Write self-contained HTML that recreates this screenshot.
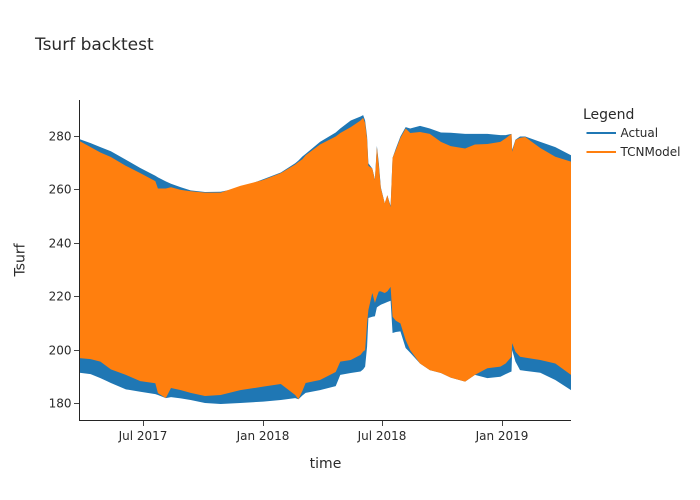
<!DOCTYPE html>
<html>
<head>
<meta charset="utf-8">
<title>Tsurf backtest</title>
<style>
html,body{margin:0;padding:0;background:#fff;}
body{width:700px;height:500px;overflow:hidden;}
svg{display:block;}
text{font-family:"DejaVu Sans","Liberation Sans",sans-serif;fill:#2a2a2a;}
</style>
</head>
<body>
<svg id="chart" xmlns="http://www.w3.org/2000/svg" width="700" height="500" viewBox="0 0 700 500">
  <text x="35" y="50" font-size="17">Tsurf backtest</text>
  <g id="plot"></g>
  <g id="axes"></g>
  <text x="325.5" y="468" font-size="14" text-anchor="middle">time</text>
  <text transform="translate(24.5,260) rotate(-90)" font-size="14" text-anchor="middle">Tsurf</text>
  <g>
    <text x="583" y="119" font-size="14">Legend</text>
    <g>
      <line x1="586.5" x2="616" y1="133" y2="133" stroke="#1f77b4" stroke-width="2"></line>
      <text x="620.5" y="137" font-size="12">Actual</text>
    </g>
    <g>
      <line x1="586.5" x2="616" y1="152" y2="152" stroke="#ff7f0e" stroke-width="2"></line>
      <text x="620.5" y="156" font-size="12">TCNModel</text>
    </g>
  </g>
</svg>
<script>
const days = [0,17,32,48,71,93,116,120,132,140,155,170,192,216,246,281,308,330,335,341,346,368,392,399,415,430,434,437,440,442,448,452,455,458,461,467,471,476,479,484,491,499,506,521,536,553,568,590,605,624,644,652,661,662,667,674,682,705,728,752];
const actualMax = [279,277.5,276,274.5,271.3,268.2,265.3,264.7,263.2,262.3,261,259.8,259.2,259.3,260.8,264,266.5,270,271,272.5,273.5,278,281.5,283,286,287.5,288,286,280,270,268,264,276.5,270,261,255,258,254,272,275.5,280,283.5,283,284,283,281.5,281.4,281,281,281,280.5,280.5,281,275,278.8,280,280,278,276,273];
const actualMin = [191.5,191,189.5,187.7,185.3,184.4,183.5,183.2,182,182.4,181.9,181.3,180.2,179.8,180.2,180.7,181.3,182,181.6,183,184,185,186.5,190.7,191.4,192,192.8,193.8,201.3,212,212.5,212.7,216,216.5,217,217.6,218,218.5,206.4,206.8,207,200.8,199,195,192.5,191.4,189.7,188.2,190.7,189.5,190,191,192,200,195.7,192.5,192.2,191.5,188.8,185];
const modelMax = [278.3,276,274,272.3,269,266.3,263.3,260.5,260.5,261,260,259.5,259,259,261.5,263.7,266.3,269.5,270.5,271.5,273,277,280,281.3,283.5,286,287,285,279,269,268,263.7,276,269,260.7,255,258,253.6,272,275,279.5,283,281.3,281.7,281,278,276.4,275.5,277,277.2,278,279.3,281,274.3,278.7,279.5,279.8,275.7,272.4,270.6];
const modelMin = [197,196.6,195.7,192.8,190.7,188.4,187.6,183.9,182,185.8,185,184,182.8,183.2,185,186.3,187.3,183.2,181.6,184.7,187.7,188.8,191.8,195.7,196.3,198.2,199.5,200,210,215,221.4,217.7,220,222,222,221.4,222,223.7,212.5,211,210,203.8,200,195,192.5,191.4,189.7,188.2,190.7,193.2,193.8,195,197.5,202.6,199.4,197.5,197.2,196.3,195,190.7];
const yTicks = [180,200,220,240,260,280];
const xTickDays = [98,282,463,647];
const xTickLabels = ["Jul 2017","Jan 2018","Jul 2018","Jan 2019"];

const NS = "http://www.w3.org/2000/svg";
const xScale = d => 79.5 + (d / 752) * 491.5;
const yScale = v => 403.5 - (v - 180) * 2.67;

function bandPath(upper, lower) {
  let d = "";
  days.forEach((day, i) => {
    d += (i ? "L" : "M") + xScale(day).toFixed(2) + " " + yScale(upper[i]).toFixed(2);
  });
  for (let i = days.length - 1; i >= 0; i--) {
    d += "L" + xScale(days[i]).toFixed(2) + " " + yScale(lower[i]).toFixed(2);
  }
  return d + "Z";
}

const plot = document.getElementById("plot");
const axes = document.getElementById("axes");

const actualBand = document.createElementNS(NS, "path");


actualBand.setAttribute("d", bandPath(actualMax, actualMin));
actualBand.setAttribute("fill", "#1f77b4");
plot.appendChild(actualBand);

const modelBand = document.createElementNS(NS, "path");


modelBand.setAttribute("d", bandPath(modelMax, modelMin));
modelBand.setAttribute("fill", "#ff7f0e");
plot.appendChild(modelBand);

const yLine = document.createElementNS(NS, "line");


yLine.setAttribute("x1", 79.5);
yLine.setAttribute("x2", 79.5);
yLine.setAttribute("y1", 100);
yLine.setAttribute("y2", 421);
yLine.setAttribute("stroke", "#242424");
axes.appendChild(yLine);

const xLine = document.createElementNS(NS, "line");


xLine.setAttribute("x1", 79);
xLine.setAttribute("x2", 571);
xLine.setAttribute("y1", 420.5);
xLine.setAttribute("y2", 420.5);
xLine.setAttribute("stroke", "#242424");
axes.appendChild(xLine);

yTicks.forEach(v => {
  const y = Math.floor(yScale(v)) + 0.5;
  const tick = document.createElementNS(NS, "line");
  
  
  tick.setAttribute("x1", 74);
  tick.setAttribute("x2", 79);
  tick.setAttribute("y1", y);
  tick.setAttribute("y2", y);
  tick.setAttribute("stroke", "#444");
  axes.appendChild(tick);

  const label = document.createElementNS(NS, "text");
  
  
  label.setAttribute("x", 71.5);
  label.setAttribute("y", y + 4);
  label.setAttribute("font-size", "12");
  label.setAttribute("text-anchor", "end");
  label.textContent = v;
  axes.appendChild(label);
});

xTickDays.forEach((d, i) => {
  const x = Math.floor(xScale(d)) + 0.5;
  const tick = document.createElementNS(NS, "line");
  
  
  tick.setAttribute("x1", x);
  tick.setAttribute("x2", x);
  tick.setAttribute("y1", 421);
  tick.setAttribute("y2", 426);
  tick.setAttribute("stroke", "#444");
  axes.appendChild(tick);

  const label = document.createElementNS(NS, "text");
  
  
  label.setAttribute("x", x - 0.5);
  label.setAttribute("y", 440);
  label.setAttribute("font-size", "12");
  label.setAttribute("text-anchor", "middle");
  label.textContent = xTickLabels[i];
  axes.appendChild(label);
});
</script>
</body>
</html>
